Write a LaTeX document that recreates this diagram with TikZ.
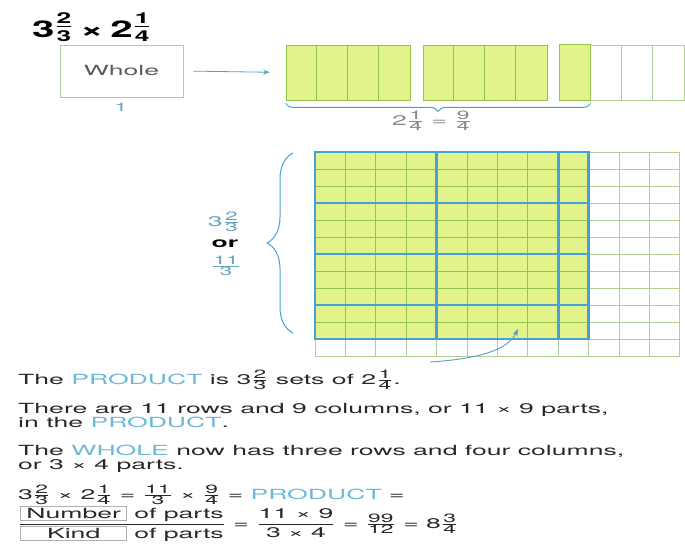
\documentclass[tikz,border=0pt]{standalone}
\usepackage{fontspec}
\setmainfont{TeX Gyre Heros}
\usepackage{amsmath}
\usepackage{graphicx}
\usetikzlibrary{positioning, decorations.pathreplacing, arrows.meta}

\definecolor{fillgreen}{RGB}{226,243,140}
\definecolor{linegreen}{RGB}{150,196,72}
\definecolor{palegreen}{RGB}{178,205,150}
\definecolor{gridblue}{RGB}{70,162,214}
\definecolor{arrowblue}{RGB}{85,160,200}
\definecolor{textblue}{RGB}{110,185,215}
\definecolor{fracblue}{RGB}{100,165,190}
\definecolor{inkgray}{RGB}{40,40,40}
\definecolor{wholegray}{RGB}{90,90,90}
\definecolor{labelgray}{RGB}{135,135,135}
\definecolor{boxgray}{RGB}{175,175,175}

\newcommand{\widen}[1]{\scalebox{1.9}[1]{#1}}
\newcommand{\hl}[1]{\textcolor{textblue}{#1}}
\newcommand{\frsize}{\fontsize{12}{12}\selectfont}
\newcommand{\fr}[2]{\ensuremath{\genfrac{}{}{0.5pt}{1}{\text{\frsize #1}}{\text{\frsize #2}}}}
\newcommand{\bfr}[2]{\raisebox{4pt}{\ensuremath{\genfrac{}{}{1.2pt}{1}{\text{\fontsize{15}{15}\selectfont #1}}{\text{\fontsize{15}{15}\selectfont #2}}}}}
\newcommand{\numbox}[1]{{\setlength{\fboxsep}{1.5pt}\setlength{\fboxrule}{0.5pt}\fcolorbox{boxgray}{white}{\makebox[52pt]{#1}}}}

\tikzset{
  txt/.style={anchor=base west, inner sep=0pt, text=inkgray, font=\fontsize{14}{14}\selectfont},
  lbl/.style={inner sep=0pt, font=\fontsize{14}{14}\selectfont},
  stripbox/.style={draw=linegreen, line width=0.8pt, fill=fillgreen, minimum width=124pt, minimum height=55pt, inner sep=0pt},
  gridthin/.style={line width=0.7pt},
  gridthick/.style={gridblue, line width=2.6pt},
  bluebrace/.style={draw=gridblue, line width=1pt, decorate},
}

\begin{document}
\begin{tikzpicture}[x=1pt, y=-1pt, >=Stealth]
  \useasboundingbox (0,0) rectangle (685,546);
  % heading
  \node[txt, text=black, font=\fontsize{23}{23}\selectfont\bfseries] (heading) at (32,37) {\scalebox{1.75}[1]{3\bfr23\,×\,2\bfr14}};

  % the whole
  \node[draw=palegreen, line width=0.8pt, minimum width=123pt, minimum height=52pt, inner sep=0pt, font=\fontsize{14}{14}\selectfont, text=wholegray] (whole) at (121.5,71) {\widen{Whole}};
  \node[lbl, font=\fontsize{12}{12}\selectfont, text=fracblue] (one) at (121,107) {\widen{1}};

  % strips for 2 1/4
  \foreach \i/\xx in {1/348,2/485} \node[stripbox] (strip\i) at (\xx,72.5) {};
  \node[stripbox, draw=palegreen, fill=white] (strip3) at (622,72.5) {};
  \fill[fillgreen] (strip3.north west) rectangle ([xshift=31]strip3.south west);
  \foreach \i in {1,2}
    \foreach \k in {1,2,3}
      \draw[linegreen, line width=0.8pt] ([xshift={31*\k}]strip\i.north west) -- ([xshift={31*\k}]strip\i.south west);
  \foreach \k in {2,3}
    \draw[palegreen, line width=0.8pt] ([xshift={31*\k}]strip3.north west) -- ([xshift={31*\k}]strip3.south west);
  \draw[linegreen, line width=0.8pt] (strip3.north west) rectangle ([xshift=31]strip3.south west);
  \draw[->, arrowblue, line width=0.8pt, shorten <=10pt, shorten >=16pt] (whole.east) -- (strip1.west);

  \draw[bluebrace, decoration={brace, amplitude=8pt}] ([xshift=31, yshift=-3pt]strip3.south west) -- ([yshift=-3pt]strip1.south west);
  \node[lbl, text=labelgray] (sumlabel) at (432,121) {\widen{2\fr14 = \fr94}};

  % grid of the product
  \fill[fillgreen] (315,152) rectangle (588.6,339);
  \foreach \c in {0,...,12} \draw[gridthin, palegreen] ({315+30.4*\c},152) -- ({315+30.4*\c},356);
  \foreach \r in {0,...,12} \draw[gridthin, palegreen] (315,{152+17*\r}) -- (680,{152+17*\r});
  \begin{scope}
    \clip (315,152) rectangle (588.6,339);
    \foreach \c in {1,...,8} \draw[gridthin, linegreen] ({315+30.4*\c},152) -- ({315+30.4*\c},339);
    \foreach \r in {1,...,10} \draw[gridthin, linegreen] (315,{152+17*\r}) -- (588.6,{152+17*\r});
  \end{scope}
  \foreach \r in {3,6,9} \draw[gridthick, line width=2pt] (315,{152+17*\r}) -- (588.6,{152+17*\r});
  \foreach \c in {4,8} \draw[gridthick, line width=3.2pt] ({315+30.4*\c},152) -- ({315+30.4*\c},339);
  \draw[gridthick] (315,152) rectangle (588.6,339);

  % rows brace
  \coordinate (braceT) at (293,153);
  \coordinate (braceB) at (293,333);
  \draw[bluebrace, decoration={brace, amplitude=26pt}] (braceB) -- (braceT);
  \node[lbl, text=black] (orword) at (225,244) {\widen{\bfseries or}};
  \node[lbl, text=fracblue] (mixedlabel) at (224,222) {\widen{3\fr23}};
  \node[lbl, text=fracblue] (improperlabel) at (226,266) {\widen{\fr{11}{3}}};

  \coordinate (arrowtail) at (430,362);
  \coordinate (arrowtip) at (518,329);
  \draw[->, arrowblue, line width=0.9pt] (arrowtail) .. controls (478,359) and (508,350) .. (arrowtip);

  % text
  \node[txt] (line1) at (18,384) {\widen{The \hl{PRODUCT} is 3\fr23 sets of 2\fr14.}};
  \node[txt] (line2) at (18,413) {\widen{There are 11 rows and 9 columns, or 11 × 9 parts,}};
  \node[txt] (line3) at (18,427) {\widen{in the \hl{PRODUCT}.}};
  \node[txt] (line4) at (18,455) {\widen{The \hl{WHOLE} now has three rows and four columns,}};
  \node[txt] (line5) at (18,469) {\widen{or 3 × 4 parts.}};
  \node[txt] (line6) at (18,499) {\widen{3\fr23 × 2\fr14 = \fr{11}3 × \fr94 = \hl{PRODUCT} =}};
  \node[txt] (line7) at (18,528) {\widen{$\genfrac{}{}{0.5pt}{0}{\text{\numbox{Number} of parts}}{\text{\numbox{Kind} of parts}}$ = $\genfrac{}{}{0.5pt}{0}{\text{11 × 9}}{\text{3 × 4}}$ = \fr{99}{12} = 8\fr34}};
\end{tikzpicture}
\end{document}
